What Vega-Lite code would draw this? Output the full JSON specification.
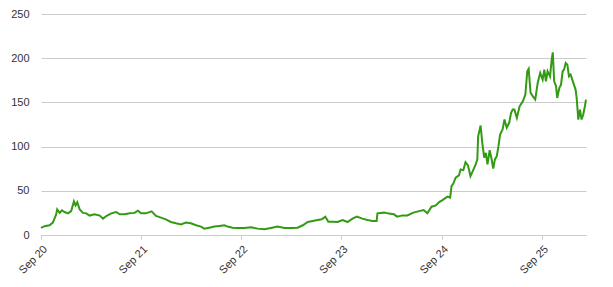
{
  "$schema": "https://vega.github.io/schema/vega-lite/v6.json",
  "width": 545,
  "height": 221,
  "autosize": "none",
  "padding": {"left": 41, "top": 14, "right": 27, "bottom": 52},
  "background": "white",
  "config": {
    "view": {"stroke": null},
    "axis": {"labelFont": "Liberation Sans", "labelFontSize": 11, "labelColor": "#333333", "gridColor": "#cccccc", "domainColor": "#cccccc", "tickColor": "#cccccc"}
  },
  "data": {"values": [
    {"date": "2020-09-01", "price": 8.0},
    {"date": "2020-09-14", "price": 10},
    {"date": "2020-10-02", "price": 11},
    {"date": "2020-10-14", "price": 14},
    {"date": "2020-10-26", "price": 23},
    {"date": "2020-10-30", "price": 29},
    {"date": "2020-11-08", "price": 25},
    {"date": "2020-11-16", "price": 28},
    {"date": "2020-11-26", "price": 26},
    {"date": "2020-12-08", "price": 24.5},
    {"date": "2020-12-20", "price": 27},
    {"date": "2020-12-30", "price": 38},
    {"date": "2021-01-05", "price": 33.5},
    {"date": "2021-01-11", "price": 37},
    {"date": "2021-01-20", "price": 29},
    {"date": "2021-02-01", "price": 25},
    {"date": "2021-02-13", "price": 24.5},
    {"date": "2021-02-25", "price": 22},
    {"date": "2021-03-15", "price": 23.4},
    {"date": "2021-04-03", "price": 22},
    {"date": "2021-04-15", "price": 18.5},
    {"date": "2021-04-27", "price": 21.5},
    {"date": "2021-05-15", "price": 24.5},
    {"date": "2021-06-02", "price": 26},
    {"date": "2021-06-15", "price": 23.4},
    {"date": "2021-07-03", "price": 23.4},
    {"date": "2021-07-21", "price": 24.5},
    {"date": "2021-08-08", "price": 25},
    {"date": "2021-08-20", "price": 27.5},
    {"date": "2021-09-01", "price": 24.5},
    {"date": "2021-09-18", "price": 24.5},
    {"date": "2021-10-09", "price": 26.7},
    {"date": "2021-10-25", "price": 21.5},
    {"date": "2021-11-12", "price": 19.6},
    {"date": "2021-11-30", "price": 17.7},
    {"date": "2021-12-18", "price": 14.7},
    {"date": "2022-01-06", "price": 13.2},
    {"date": "2022-01-24", "price": 12},
    {"date": "2022-02-11", "price": 14},
    {"date": "2022-03-01", "price": 13.2},
    {"date": "2022-03-20", "price": 11},
    {"date": "2022-04-07", "price": 9.5},
    {"date": "2022-04-19", "price": 7.2},
    {"date": "2022-05-07", "price": 8.3},
    {"date": "2022-05-26", "price": 9.5},
    {"date": "2022-06-13", "price": 10.2},
    {"date": "2022-07-01", "price": 11},
    {"date": "2022-07-13", "price": 9.5},
    {"date": "2022-07-31", "price": 8.3},
    {"date": "2022-08-18", "price": 7.9},
    {"date": "2022-09-12", "price": 7.9},
    {"date": "2022-10-06", "price": 8.7},
    {"date": "2022-10-31", "price": 7.2},
    {"date": "2022-11-24", "price": 6.4},
    {"date": "2022-12-18", "price": 7.9},
    {"date": "2023-01-11", "price": 9.5},
    {"date": "2023-02-05", "price": 7.9},
    {"date": "2023-03-01", "price": 7.9},
    {"date": "2023-03-25", "price": 8.3},
    {"date": "2023-04-13", "price": 11},
    {"date": "2023-05-01", "price": 14.7},
    {"date": "2023-05-19", "price": 15.8},
    {"date": "2023-06-06", "price": 17},
    {"date": "2023-06-21", "price": 17.7},
    {"date": "2023-07-04", "price": 20.8},
    {"date": "2023-07-15", "price": 15},
    {"date": "2023-07-31", "price": 15},
    {"date": "2023-08-18", "price": 14.7},
    {"date": "2023-09-05", "price": 17},
    {"date": "2023-09-23", "price": 14.7},
    {"date": "2023-10-11", "price": 18.5},
    {"date": "2023-10-27", "price": 20.8},
    {"date": "2023-11-16", "price": 18.5},
    {"date": "2023-12-05", "price": 17},
    {"date": "2023-12-23", "price": 15.8},
    {"date": "2024-01-07", "price": 15.8},
    {"date": "2024-01-10", "price": 24.5},
    {"date": "2024-02-03", "price": 25.3},
    {"date": "2024-02-21", "price": 24.2},
    {"date": "2024-03-10", "price": 23.4},
    {"date": "2024-03-22", "price": 20.8},
    {"date": "2024-04-10", "price": 22.2},
    {"date": "2024-04-28", "price": 22.2},
    {"date": "2024-05-20", "price": 25.3},
    {"date": "2024-06-10", "price": 27},
    {"date": "2024-06-26", "price": 28.2},
    {"date": "2024-07-10", "price": 24.5},
    {"date": "2024-07-25", "price": 32},
    {"date": "2024-08-10", "price": 33.5},
    {"date": "2024-08-22", "price": 37.3},
    {"date": "2024-09-03", "price": 39.5},
    {"date": "2024-09-21", "price": 43.4},
    {"date": "2024-10-01", "price": 42.2},
    {"date": "2024-10-06", "price": 55.3},
    {"date": "2024-10-13", "price": 58.4},
    {"date": "2024-10-21", "price": 64.8},
    {"date": "2024-11-02", "price": 67.4},
    {"date": "2024-11-08", "price": 74.2},
    {"date": "2024-11-18", "price": 73.4},
    {"date": "2024-11-26", "price": 82.4},
    {"date": "2024-12-05", "price": 78.7},
    {"date": "2024-12-14", "price": 66.6},
    {"date": "2024-12-24", "price": 73.4},
    {"date": "2025-01-02", "price": 79.8},
    {"date": "2025-01-08", "price": 85.5},
    {"date": "2025-01-11", "price": 111.8},
    {"date": "2025-01-20", "price": 123.9},
    {"date": "2025-01-26", "price": 104.3},
    {"date": "2025-02-02", "price": 87.4},
    {"date": "2025-02-08", "price": 93},
    {"date": "2025-02-14", "price": 79.8},
    {"date": "2025-02-22", "price": 96},
    {"date": "2025-02-28", "price": 87.4},
    {"date": "2025-03-07", "price": 75},
    {"date": "2025-03-13", "price": 85.5},
    {"date": "2025-03-20", "price": 89.2},
    {"date": "2025-03-26", "price": 100.5},
    {"date": "2025-04-01", "price": 113.7},
    {"date": "2025-04-10", "price": 119.3},
    {"date": "2025-04-17", "price": 130.6},
    {"date": "2025-04-25", "price": 121.3},
    {"date": "2025-05-04", "price": 126.9},
    {"date": "2025-05-11", "price": 138.2},
    {"date": "2025-05-17", "price": 141.9},
    {"date": "2025-05-23", "price": 141.9},
    {"date": "2025-06-01", "price": 132.5},
    {"date": "2025-06-11", "price": 145.6},
    {"date": "2025-06-23", "price": 151.3},
    {"date": "2025-07-02", "price": 158.9},
    {"date": "2025-07-09", "price": 185.2},
    {"date": "2025-07-14", "price": 187.9},
    {"date": "2025-07-21", "price": 160.8},
    {"date": "2025-07-29", "price": 157},
    {"date": "2025-08-07", "price": 153.2},
    {"date": "2025-08-16", "price": 172},
    {"date": "2025-08-25", "price": 183.4},
    {"date": "2025-09-03", "price": 175.8},
    {"date": "2025-09-09", "price": 187.1},
    {"date": "2025-09-15", "price": 173.9},
    {"date": "2025-09-21", "price": 185.2},
    {"date": "2025-09-30", "price": 179.5},
    {"date": "2025-10-06", "price": 198.4},
    {"date": "2025-10-10", "price": 206.6},
    {"date": "2025-10-15", "price": 173.9},
    {"date": "2025-10-22", "price": 168.2},
    {"date": "2025-10-26", "price": 155},
    {"date": "2025-11-03", "price": 166.4},
    {"date": "2025-11-09", "price": 170.1},
    {"date": "2025-11-15", "price": 185.2},
    {"date": "2025-11-20", "price": 187.1},
    {"date": "2025-11-26", "price": 194.6},
    {"date": "2025-12-02", "price": 192.7},
    {"date": "2025-12-08", "price": 179.5},
    {"date": "2025-12-14", "price": 181.4},
    {"date": "2025-12-20", "price": 175.8},
    {"date": "2025-12-26", "price": 170.1},
    {"date": "2026-01-01", "price": 164.5},
    {"date": "2026-01-05", "price": 155},
    {"date": "2026-01-11", "price": 130.6},
    {"date": "2026-01-17", "price": 141.9},
    {"date": "2026-01-23", "price": 130.6},
    {"date": "2026-01-29", "price": 136.3},
    {"date": "2026-02-04", "price": 145.6},
    {"date": "2026-02-08", "price": 153.2}
  ]},
  "mark": {"type": "line", "color": "#339a14", "strokeWidth": 2, "interpolate": "linear"},
  "encoding": {
    "x": {
      "field": "date", "type": "temporal", "title": null,
      "scale": {"domain": [{"year": 2020, "month": 9, "date": 1}, {"year": 2026, "month": 2, "date": 8}]},
      "axis": {
        "values": [
          {"year": 2020, "month": 9, "date": 1},
          {"year": 2021, "month": 9, "date": 1},
          {"year": 2022, "month": 9, "date": 1},
          {"year": 2023, "month": 9, "date": 1},
          {"year": 2024, "month": 9, "date": 1},
          {"year": 2025, "month": 9, "date": 1}
        ],
        "format": "%b %y", "labelAngle": -45, "grid": false, "tickSize": 4, "labelPadding": 4
      }
    },
    "y": {
      "field": "price", "type": "quantitative", "title": null,
      "scale": {"domain": [0, 250]},
      "axis": {"values": [0, 50, 100, 150, 200, 250], "domain": false, "ticks": false, "labelPadding": 12}
    }
  }
}
